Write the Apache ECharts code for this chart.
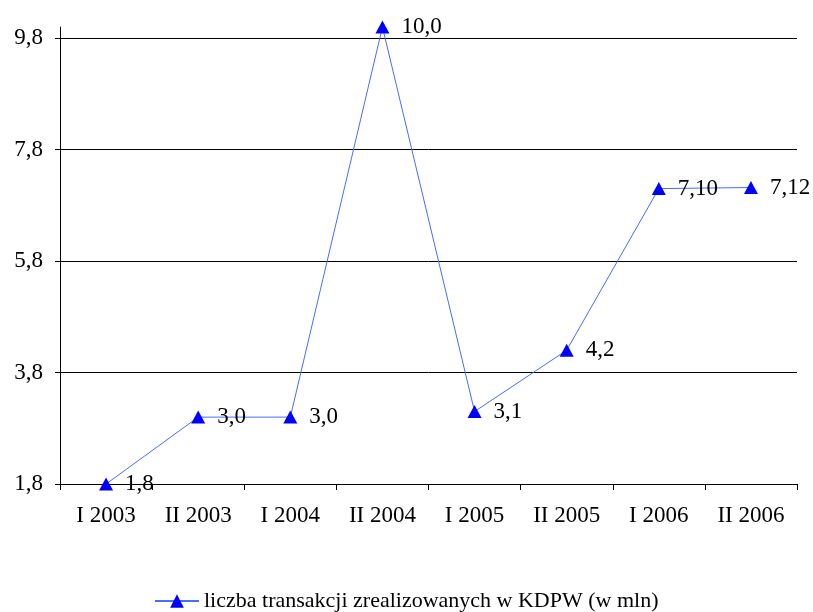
<!DOCTYPE html>
<html>
<head>
<meta charset="utf-8">
<script src="https://cdn.jsdelivr.net/npm/echarts@6/dist/echarts.min.js"></script>
<style>
  html, body { margin: 0; padding: 0; background: #ffffff; }
  #chart { width: 813px; height: 612px; }
</style>
</head>
<body>
<div id="chart"></div>
<script>
// Half-year periods
const categories = ['I 2003', 'II 2003', 'I 2004', 'II 2004', 'I 2005', 'II 2005', 'I 2006', 'II 2006'];
// Transactions settled in KDPW (millions)
const transactions = [1.8, 3.0, 3.0, 10.0, 3.1, 4.2, 7.10, 7.12];
// Decimal places shown in each point label
const labelDecimals = [1, 1, 1, 1, 1, 1, 2, 2];
// Value axis ticks
const yTicks = [1.8, 3.8, 5.8, 7.8, 9.8];
const seriesName = 'liczba transakcji zrealizowanych w KDPW (w mln)';

const FONT = '"Liberation Serif", "Times New Roman", serif';
const comma = (v, d) => Number(v).toFixed(d).replace('.', ',');

const chart = echarts.init(document.getElementById('chart'));
chart.setOption({
  animation: false,
  backgroundColor: '#ffffff',
  grid: { left: 60, right: 16, top: 27, bottom: 128, containLabel: false },
  legend: {
    data: [seriesName],
    left: 149,
    top: 585,
    itemWidth: 44,
    itemHeight: 17,
    itemGap: 6,
    textStyle: { fontFamily: FONT, fontSize: 22, color: '#000' }
  },
  xAxis: {
    type: 'category',
    data: categories,
    boundaryGap: true,
    axisLine: { lineStyle: { color: '#000', width: 1 } },
    axisTick: { show: true, alignWithLabel: false, length: 6, lineStyle: { color: '#000' } },
    axisLabel: { fontFamily: FONT, fontSize: 23, color: '#000', margin: 20 },
    splitLine: { show: false }
  },
  yAxis: {
    type: 'value',
    min: 1.8,
    max: 10,
    interval: 2,
    axisLine: { show: true, lineStyle: { color: '#000', width: 1 } },
    axisTick: { show: true, length: 5, customValues: yTicks, lineStyle: { color: '#000' } },
    axisLabel: {
      fontFamily: FONT, fontSize: 23, color: '#000', margin: 17,
      customValues: yTicks,
      formatter: v => comma(v, 1)
    },
    splitLine: { show: true, showMinLine: false, showMaxLine: true, lineStyle: { color: '#000', width: 1 } }
  },
  series: [{
    name: seriesName,
    type: 'line',
    data: transactions,
    symbol: 'triangle',
    symbolSize: [14, 13],
    itemStyle: { color: '#0000ff' },
    lineStyle: { color: '#4a6cff', width: 1 },
    label: {
      show: true,
      position: 'right',
      distance: 12,
      fontFamily: FONT,
      fontSize: 23,
      color: '#000',
      formatter: p => comma(p.value, labelDecimals[p.dataIndex])
    },
    z: 3
  }]
});
</script>
</body>
</html>
